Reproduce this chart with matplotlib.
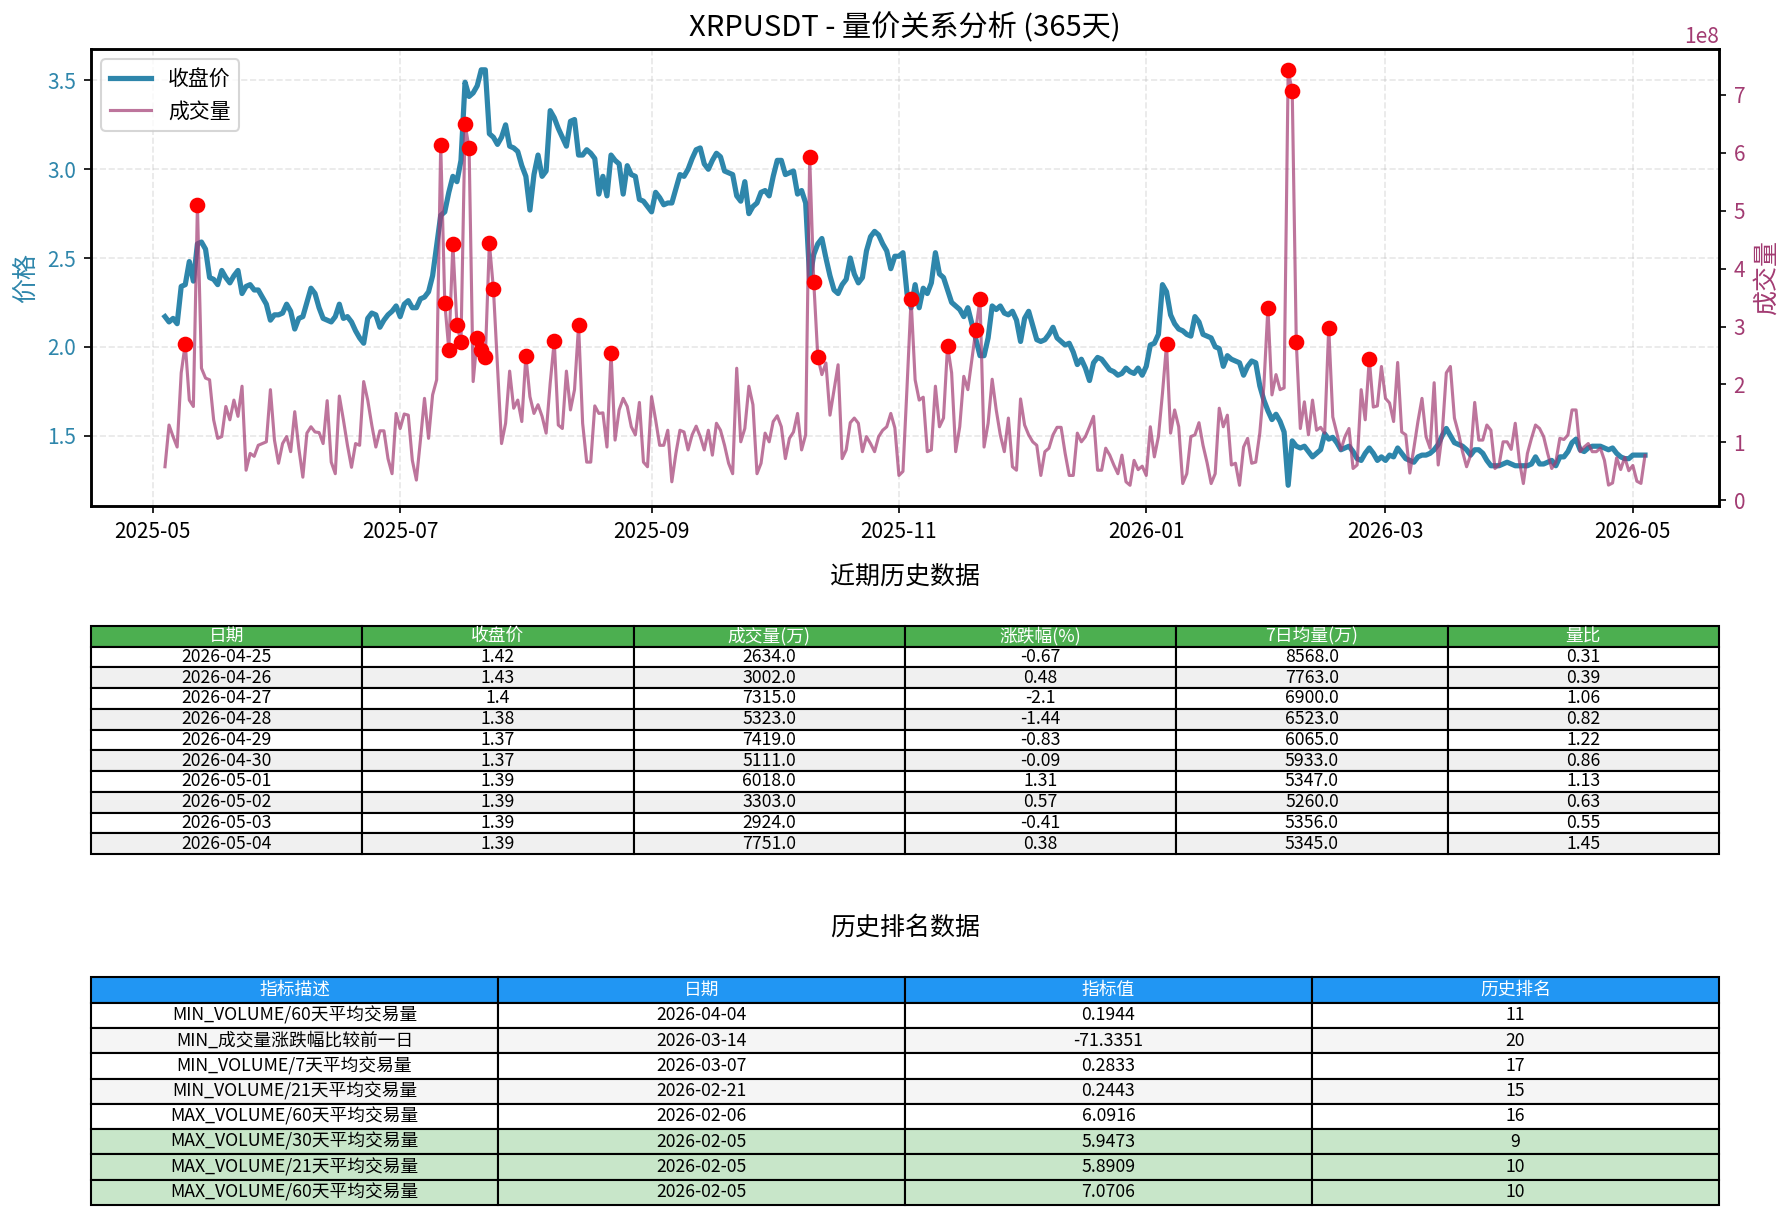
import numpy as np
import pandas as pd
import matplotlib
matplotlib.use("Agg")
import matplotlib.pyplot as plt
import matplotlib.dates as mdates

plt.rcParams["font.family"] = ["Noto Sans CJK SC", "DejaVu Sans"]
plt.rcParams["axes.unicode_minus"] = False

# daily data 2025-05-04 .. 2026-05-04
dates = pd.date_range("2025-05-04", "2026-05-04", freq="D")

close = [
    2.17, 2.14, 2.16, 2.13, 2.34, 2.35, 2.48, 2.37, 2.58, 2.59,
    2.55, 2.39, 2.38, 2.35, 2.43, 2.39, 2.36, 2.40, 2.43, 2.30,
    2.34, 2.35, 2.32, 2.32, 2.28, 2.24, 2.15, 2.18, 2.18, 2.19,
    2.24, 2.20, 2.10, 2.16, 2.17, 2.25, 2.33, 2.30, 2.22, 2.16,
    2.15, 2.14, 2.17, 2.24, 2.16, 2.17, 2.14, 2.09, 2.05, 2.02,
    2.16, 2.19, 2.18, 2.11, 2.15, 2.18, 2.20, 2.23, 2.17, 2.24,
    2.26, 2.22, 2.22, 2.27, 2.28, 2.31, 2.40, 2.57, 2.74, 2.76,
    2.87, 2.96, 2.93, 3.05, 3.49, 3.41, 3.43, 3.47, 3.56, 3.56,
    3.20, 3.18, 3.14, 3.18, 3.25, 3.13, 3.12, 3.10, 3.02, 2.96,
    2.77, 2.97, 3.08, 2.96, 2.99, 3.33, 3.29, 3.23, 3.18, 3.13,
    3.27, 3.28, 3.08, 3.08, 3.11, 3.09, 3.06, 2.86, 2.96, 2.85,
    3.08, 3.05, 3.03, 2.86, 3.02, 2.97, 2.96, 2.83, 2.82, 2.79,
    2.76, 2.87, 2.84, 2.80, 2.81, 2.81, 2.89, 2.97, 2.96, 3.00,
    3.06, 3.11, 3.12, 3.03, 3.00, 3.05, 3.09, 3.07, 2.99, 2.98,
    2.97, 2.85, 2.82, 2.93, 2.75, 2.79, 2.81, 2.87, 2.88, 2.85,
    2.96, 3.05, 3.05, 2.97, 2.98, 2.99, 2.86, 2.88, 2.81, 2.38,
    2.52, 2.58, 2.61, 2.50, 2.40, 2.32, 2.30, 2.35, 2.38, 2.50,
    2.41, 2.36, 2.39, 2.54, 2.62, 2.65, 2.63, 2.58, 2.54, 2.44,
    2.51, 2.51, 2.53, 2.30, 2.22, 2.35, 2.22, 2.33, 2.30, 2.36,
    2.53, 2.41, 2.39, 2.32, 2.25, 2.23, 2.21, 2.17, 2.22, 2.13,
    2.04, 1.95, 1.95, 2.05, 2.23, 2.21, 2.23, 2.19, 2.18, 2.20,
    2.15, 2.03, 2.16, 2.20, 2.12, 2.04, 2.03, 2.04, 2.07, 2.11,
    2.05, 2.03, 2.01, 2.02, 1.97, 1.90, 1.93, 1.88, 1.81, 1.91,
    1.94, 1.93, 1.90, 1.87, 1.86, 1.84, 1.85, 1.88, 1.86, 1.85,
    1.88, 1.84, 1.89, 2.01, 2.02, 2.07, 2.35, 2.31, 2.18, 2.13,
    2.10, 2.09, 2.07, 2.06, 2.17, 2.14, 2.07, 2.06, 2.05, 2.00,
    1.99, 1.89, 1.95, 1.93, 1.92, 1.91, 1.84, 1.89, 1.92, 1.91,
    1.78, 1.70, 1.64, 1.59, 1.62, 1.58, 1.52, 1.22, 1.47, 1.44,
    1.43, 1.44, 1.41, 1.38, 1.40, 1.42, 1.51, 1.48, 1.49, 1.46,
    1.42, 1.43, 1.44, 1.41, 1.37, 1.36, 1.40, 1.43, 1.40, 1.36,
    1.38, 1.36, 1.39, 1.38, 1.43, 1.40, 1.37, 1.36, 1.35, 1.38,
    1.39, 1.39, 1.40, 1.42, 1.45, 1.50, 1.54, 1.50, 1.46, 1.45,
    1.44, 1.42, 1.39, 1.42, 1.42, 1.40, 1.36, 1.33, 1.33, 1.33,
    1.34, 1.35, 1.34, 1.33, 1.33, 1.33, 1.33, 1.34, 1.38, 1.34,
    1.34, 1.35, 1.36, 1.33, 1.38, 1.38, 1.41, 1.46, 1.48, 1.42,
    1.41, 1.43, 1.44, 1.44, 1.44, 1.43, 1.42, 1.43, 1.40, 1.38,
    1.37, 1.37, 1.39, 1.39, 1.39, 1.39,
]

# volume in units of 1e8
volume_1e8 = [
    0.58, 1.30, 1.10, 0.92, 2.20, 2.70, 1.73, 1.62, 5.09, 2.28,
    2.11, 2.08, 1.39, 1.07, 1.10, 1.62, 1.39, 1.73, 1.45, 1.97,
    0.52, 0.81, 0.76, 0.95, 0.98, 1.01, 1.91, 1.04, 0.64, 0.98,
    1.10, 0.84, 1.53, 0.90, 0.40, 1.16, 1.27, 1.18, 1.17, 0.98,
    1.72, 0.66, 0.46, 1.80, 1.39, 0.95, 0.57, 0.98, 0.95, 2.05,
    1.73, 1.30, 0.92, 1.20, 1.20, 0.72, 0.46, 1.50, 1.24, 1.49,
    1.47, 0.69, 0.35, 1.04, 1.76, 1.07, 1.82, 2.08, 6.14, 3.41,
    2.60, 4.42, 3.03, 2.73, 6.49, 6.08, 2.05, 2.80, 2.60, 2.47,
    4.44, 3.65, 2.30, 0.98, 1.33, 2.23, 1.59, 1.73, 1.36, 2.49,
    1.79, 1.50, 1.65, 1.45, 1.16, 2.02, 2.75, 1.30, 1.24, 2.23,
    1.56, 1.91, 3.02, 1.33, 0.66, 0.66, 1.63, 1.50, 1.51, 0.92,
    2.54, 1.04, 1.56, 1.76, 1.62, 1.27, 1.13, 1.69, 0.66, 0.58,
    1.79, 1.39, 0.95, 0.95, 1.21, 0.32, 0.81, 1.21, 1.18, 0.87,
    1.13, 1.28, 1.10, 0.87, 1.21, 0.78, 1.33, 1.21, 0.95, 0.64,
    0.46, 2.28, 1.01, 1.24, 1.97, 1.65, 0.46, 0.64, 1.16, 1.01,
    1.36, 1.46, 1.27, 0.72, 1.07, 1.18, 1.50, 0.87, 1.13, 5.92,
    3.77, 2.47, 2.17, 2.37, 1.47, 1.91, 2.34, 0.72, 0.87, 1.34,
    1.42, 1.33, 0.84, 1.10, 0.98, 0.84, 1.10, 1.21, 1.27, 1.50,
    1.25, 0.43, 0.50, 1.95, 3.47, 2.08, 1.73, 1.78, 0.84, 0.87,
    1.97, 1.27, 1.42, 2.67, 2.20, 0.84, 1.27, 2.14, 1.91, 2.43,
    2.94, 3.48, 0.92, 1.33, 2.09, 1.56, 1.13, 0.84, 1.42, 0.58,
    0.52, 1.75, 1.30, 1.13, 1.01, 0.95, 0.43, 0.84, 0.90, 1.13,
    1.26, 1.26, 0.81, 0.43, 0.43, 1.16, 1.01, 1.10, 1.27, 1.45,
    0.52, 0.52, 0.90, 0.78, 0.61, 0.46, 0.78, 0.32, 0.26, 0.69,
    0.53, 0.59, 0.43, 1.27, 0.75, 1.10, 1.85, 2.69, 1.16, 1.56,
    1.27, 0.29, 0.46, 1.10, 1.13, 1.34, 0.95, 0.65, 0.29, 0.46,
    1.59, 1.27, 1.47, 0.61, 0.64, 0.26, 0.92, 1.07, 0.64, 0.66,
    1.16, 1.97, 3.32, 1.82, 2.17, 1.91, 1.94, 7.43, 7.06, 2.73,
    1.24, 1.70, 1.13, 1.73, 1.21, 1.26, 1.16, 2.98, 1.44, 1.16,
    0.87, 1.10, 1.24, 0.55, 0.61, 1.91, 1.39, 2.44, 1.61, 1.63,
    2.31, 1.76, 1.68, 1.36, 2.38, 1.18, 1.13, 0.47, 0.90, 1.36,
    1.76, 1.10, 0.90, 2.03, 0.61, 1.16, 2.20, 2.31, 1.42, 1.16,
    0.84, 0.58, 0.78, 1.69, 1.04, 1.04, 1.30, 1.21, 0.55, 0.61,
    1.01, 1.01, 0.88, 1.33, 0.69, 0.29, 0.81, 1.07, 1.30, 1.24,
    1.10, 0.81, 0.55, 0.66, 1.07, 1.05, 1.13, 1.56, 1.56, 0.84,
    0.92, 0.98, 0.84, 0.84, 0.90, 0.69, 0.2634, 0.3002, 0.7315, 0.5323,
    0.7419, 0.5111, 0.6018, 0.3303, 0.2924, 0.7751,
]

# days flagged as abnormal volume (red dots)
spike_idx = [5, 8, 68, 69, 70, 71, 72, 73, 74, 75, 77, 78, 79, 80, 81,
             89, 96, 102, 110, 159, 160, 161, 184, 193, 200, 201, 247,
             272, 277, 278, 279, 287, 297]

# recent history table
recent_cols = ["日期", "收盘价", "成交量(万)", "涨跌幅(%)", "7日均量(万)", "量比"]
recent_dates = ["2026-04-25", "2026-04-26", "2026-04-27", "2026-04-28", "2026-04-29",
                "2026-04-30", "2026-05-01", "2026-05-02", "2026-05-03", "2026-05-04"]
recent_close = [1.42, 1.43, 1.4, 1.38, 1.37, 1.37, 1.39, 1.39, 1.39, 1.39]
recent_vol = [2634.0, 3002.0, 7315.0, 5323.0, 7419.0, 5111.0, 6018.0, 3303.0, 2924.0, 7751.0]
recent_chg = [-0.67, 0.48, -2.1, -1.44, -0.83, -0.09, 1.31, 0.57, -0.41, 0.38]
recent_vol7 = [8568.0, 7763.0, 6900.0, 6523.0, 6065.0, 5933.0, 5347.0, 5260.0, 5356.0, 5345.0]
recent_ratio = [0.31, 0.39, 1.06, 0.82, 1.22, 0.86, 1.13, 0.63, 0.55, 1.45]

# ranking table
rank_cols = ["指标描述", "日期", "指标值", "历史排名"]
rank_desc = ["MIN_VOLUME/60天平均交易量", "MIN_成交量涨跌幅比较前一日", "MIN_VOLUME/7天平均交易量",
             "MIN_VOLUME/21天平均交易量", "MAX_VOLUME/60天平均交易量", "MAX_VOLUME/30天平均交易量",
             "MAX_VOLUME/21天平均交易量", "MAX_VOLUME/60天平均交易量"]
rank_dates = ["2026-04-04", "2026-03-14", "2026-03-07", "2026-02-21",
              "2026-02-06", "2026-02-05", "2026-02-05", "2026-02-05"]
rank_values = [0.1944, -71.3351, 0.2833, 0.2443, 6.0916, 5.9473, 5.8909, 7.0706]
rank_ranks = [11, 20, 17, 15, 16, 9, 10, 10]
rank_highlight = [5, 6, 7]

price_c = "#2E86AB"
vol_c = "#A23B72"

volume = np.array(volume_1e8) * 1e8

fig = plt.figure(figsize=(1791 / 150, 1220 / 150), dpi=150)

# ---- price / volume chart
ax1 = fig.add_axes([0.0508, 0.5852, 0.9090, 0.3746])
for s in ax1.spines.values():
    s.set_linewidth(1.2)
l1, = ax1.plot(dates, close, color=price_c, lw=2.5, label="收盘价")
ax1.set_ylabel("价格", color=price_c, fontsize=12)
ax1.tick_params(axis="y", labelcolor=price_c)
ax1.grid(True, linestyle="--", alpha=0.3)
ax1.xaxis.set_major_locator(mdates.MonthLocator(bymonth=[1, 3, 5, 7, 9, 11]))
ax1.xaxis.set_major_formatter(mdates.DateFormatter("%Y-%m"))

ax2 = ax1.twinx()
l2, = ax2.plot(dates, volume, color=vol_c, alpha=0.7, lw=1.5, label="成交量")
ax2.plot(dates[spike_idx], volume[spike_idx], "o", color="red", ms=6.5)
ax2.set_ylabel("成交量", color=vol_c, fontsize=12)
ax2.tick_params(axis="y", labelcolor=vol_c)
ax2.yaxis.get_offset_text().set_color(vol_c)
for s in ax2.spines.values():
    s.set_linewidth(1.2)

ax1.legend([l1, l2], ["收盘价", "成交量"], loc="upper left", fontsize=10)
fig.text(0.5053, 0.977, "XRPUSDT - 量价关系分析 (365天)", ha="center", va="center", fontsize=14)

# ---- recent history table
fig.text(0.5053, 0.527, "近期历史数据", ha="center", va="center", fontsize=12)
tax1 = fig.add_axes([0.0508, 0.300, 0.9090, 0.187])
tax1.axis("off")
rows1 = [[d, str(c), str(v), str(p), str(v7), str(r)]
         for d, c, v, p, v7, r in zip(recent_dates, recent_close, recent_vol,
                                       recent_chg, recent_vol7, recent_ratio)]
tbl1 = tax1.table(cellText=rows1, colLabels=recent_cols, cellLoc="center", bbox=[0, 0, 1, 1])
tbl1.auto_set_font_size(False)
tbl1.set_fontsize(8.5)
for (r, c), cell in tbl1.get_celld().items():
    cell.set_linewidth(1.0)
    if r == 0:
        cell.set_facecolor("#4CAF50")
        cell.get_text().set_color("white")
    else:
        cell.set_facecolor("white" if r % 2 == 1 else "#f0f0f0")

# ---- ranking table
fig.text(0.5053, 0.240, "历史排名数据", ha="center", va="center", fontsize=12)
tax2 = fig.add_axes([0.0508, 0.0123, 0.9090, 0.1866])
tax2.axis("off")
rows2 = [[a, b, str(v), str(k)] for a, b, v, k in zip(rank_desc, rank_dates, rank_values, rank_ranks)]
tbl2 = tax2.table(cellText=rows2, colLabels=rank_cols, cellLoc="center", bbox=[0, 0, 1, 1])
tbl2.auto_set_font_size(False)
tbl2.set_fontsize(8.5)
for (r, c), cell in tbl2.get_celld().items():
    cell.set_linewidth(1.0)
    if r == 0:
        cell.set_facecolor("#2196F3")
        cell.get_text().set_color("white")
    elif (r - 1) in rank_highlight:
        cell.set_facecolor("#C8E6C9")
    else:
        cell.set_facecolor("white" if r % 2 == 1 else "#f5f5f5")

fig.savefig("out.png", dpi=150)
